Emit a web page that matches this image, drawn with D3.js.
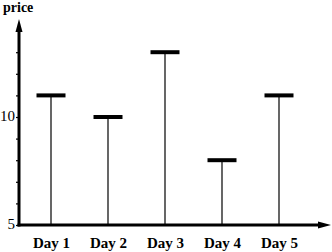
<!DOCTYPE html>
<html>
<head>
<meta charset="utf-8">
<script src="https://cdn.jsdelivr.net/npm/d3@7"></script>
<style>
  body { margin: 0; background: #fff; }
  svg { display: block; }
  text { font-family: "Liberation Serif", "Times New Roman", serif; fill: #000; }
</style>
</head>
<body>
<div id="chart"></div>
<script>
const days = ["Day 1", "Day 2", "Day 3", "Day 4", "Day 5"];
const prices = [11, 10, 13, 8, 11];
const tickValues = [5, 6, 7, 8, 9, 10, 11, 12, 13];
const tickLabels = { 5: "5", 10: "10" };

const width = 332, height = 252;
const x0 = 19, y0 = 225;

const svg = d3.select("#chart").append("svg")
    .attr("width", width)
    .attr("height", height);

const x = d3.scalePoint()
    .domain(days)
    .range([51, 279]);

const y = d3.scaleLinear()
    .domain([5, 10])
    .range([y0, 117]);

// y axis with small ticks
const yAxis = d3.axisLeft(y)
    .tickValues(tickValues)
    .tickSize(3)
    .tickFormat(d => tickLabels[d] || "");

const gy = svg.append("g")
    .attr("transform", `translate(${x0},0)`)
    .call(yAxis);
gy.select(".domain").remove();
gy.selectAll(".tick line").attr("stroke", "#000").attr("stroke-width", 1.2);
gy.selectAll(".tick text")
    .attr("x", -4)
    .attr("dy", "0.2em")
    .attr("font-size", 15)
    .attr("font-family", "Liberation Serif, serif");

// axis lines with arrows
svg.append("line")
    .attr("x1", x0).attr("y1", y0 + 1.5)
    .attr("x2", x0).attr("y2", 30)
    .attr("stroke", "#000").attr("stroke-width", 3);
svg.append("path")
    .attr("d", `M${x0},19 L${x0 - 3.5},32 L${x0 + 3.5},32 Z`)
    .attr("fill", "#000");

svg.append("line")
    .attr("x1", x0 - 1.5).attr("y1", y0)
    .attr("x2", 320).attr("y2", y0)
    .attr("stroke", "#000").attr("stroke-width", 3);
svg.append("path")
    .attr("d", `M331,${y0} L318,${y0 - 3.5} L318,${y0 + 3.5} Z`)
    .attr("fill", "#000");

// x labels
const xAxis = d3.axisBottom(x).tickSize(0).tickPadding(12);
const gx = svg.append("g")
    .attr("transform", `translate(0,${y0})`)
    .call(xAxis);
gx.select(".domain").remove();
gx.selectAll(".tick text")
    .attr("font-size", 15)
    .attr("font-weight", "bold")
    .attr("font-family", "Liberation Serif, serif");

// stems
svg.selectAll(".stem")
    .data(days)
    .enter().append("line")
    .attr("class", "stem")
    .attr("x1", d => x(d)).attr("x2", d => x(d))
    .attr("y1", y0)
    .attr("y2", (d, i) => y(prices[i]))
    .attr("stroke", "#000").attr("stroke-width", 1.2);

// caps
svg.selectAll(".cap")
    .data(days)
    .enter().append("line")
    .attr("class", "cap")
    .attr("x1", d => x(d) - 14.5).attr("x2", d => x(d) + 14.5)
    .attr("y1", (d, i) => y(prices[i]))
    .attr("y2", (d, i) => y(prices[i]))
    .attr("stroke", "#000").attr("stroke-width", 4);

// axis title
svg.append("text")
    .attr("x", 3).attr("y", 12)
    .attr("font-size", 14)
    .attr("font-weight", "bold")
    .text("price");
</script>
</body>
</html>
